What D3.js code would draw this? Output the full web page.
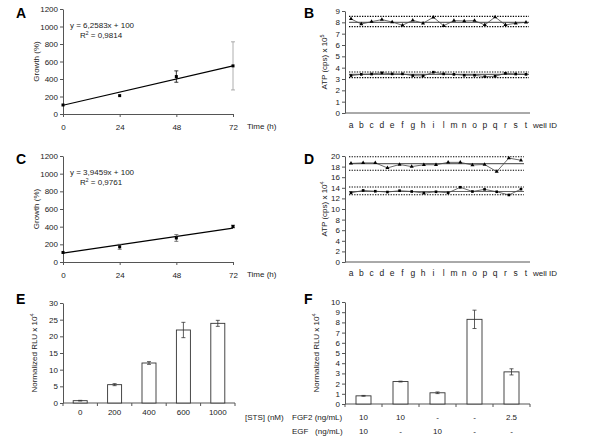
<!DOCTYPE html>
<html><head><meta charset="utf-8">
<script src="https://cdn.jsdelivr.net/npm/d3@7"></script>
<style>
body{margin:0;background:#fff;}
svg{display:block;font-family:"Liberation Sans",Arial,sans-serif;}
</style></head><body>
<svg id="c" width="600" height="446"></svg>
<script>
// ---------- DATA ----------
const timeH = [0, 24, 48, 72];
const timeTicks = [0, 24, 48, 72];
const growthTicks = [0, 200, 400, 600, 800, 1000, 1200];
const growthA = [103, 210, 428, 550];
const growthAErr = [0, 0, 65, 275];
const growthC = [108, 172, 272, 402];
const growthCErr = [0, 28, 38, 15];
const slopeA = 6.2583, slopeC = 3.9459, interceptFit = 100;
const eqA = ["y = 6,2583x + 100", "0,9814"];
const eqC = ["y = 3,9459x + 100", "0,9761"];

const wellIDs = ["a","b","c","d","e","f","g","h","i","l","m","n","o","p","q","r","s","t"];
const atpBHigh = [8.3,7.85,8.06,8.24,8.03,7.74,8.18,7.92,8.45,7.7,8.15,8.12,8.15,7.77,8.47,7.77,7.92,8.0];
const atpBLow  = [3.3,3.41,3.44,3.54,3.45,3.45,3.3,3.27,3.6,3.45,3.41,3.33,3.33,3.21,3.24,3.5,3.44,3.41];
const limBHigh = [7.62, 8.0, 8.53];   // lower limit, mean, upper limit
const limBLow  = [3.12, 3.4, 3.62];
const atpBTicks = [0,1,2,3,4,5,6,7,8,9];

const atpDHigh = [18.6,18.7,18.7,17.75,18.4,18.0,18.35,18.35,18.8,18.8,18.3,18.4,17.05,19.6,19.2];
const atpDLow  = [13.05,13.5,13.35,13.2,13.45,13.3,13.0,13.25,13.05,14.1,13.3,13.7,13.25,12.65,13.75];
const limDHigh = [17.3, 18.55, 19.85];
const limDLow  = [12.7, 13.3, 14.15];
const atpDTicks = [0,2,4,6,8,10,12,14,16,18,20];

const stsDoses = ["0","200","400","600","1000"];
const rluE = [0.7, 5.5, 12.0, 21.9, 23.9];
const rluEErr = [0.1, 0.3, 0.4, 2.3, 0.9];
const rluETicks = [0,5,10,15,20,25,30];

const fgf2 = ["10","10","-","-","2.5"];
const egf  = ["10","-","10","-","-"];
const rluF = [0.8, 2.2, 1.1, 8.3, 3.15];
const rluFErr = [0.04, 0.04, 0.08, 0.9, 0.3];
const rluFTicks = [0,1,2,3,4,5,6,7,8,9,10];

// ---------- DRAWING ----------
const svg = d3.select("#c");
const TXT = "#222", AX = "#555", FS = 8;

function panelLetter(t, x, y){
  svg.append("text").attr("x",x).attr("y",y).attr("font-size",14).attr("font-weight","bold")
    .attr("fill","#000").text(t);
}
function leftAxis(scale, x, ticks){
  const g = svg.append("g").attr("transform",`translate(${x},0)`)
    .call(d3.axisLeft(scale).tickValues(ticks).tickFormat(d3.format("d")).tickSize(3).tickPadding(2).tickSizeOuter(0));
  g.selectAll("path,line").attr("stroke",AX);
  g.selectAll("text").attr("font-size",FS).attr("fill",TXT).attr("font-family","Liberation Sans, Arial, sans-serif");
  return g;
}
function yTitle(x, yc, main, sup){
  const t = svg.append("text").attr("transform",`translate(${x},${yc}) rotate(-90)`)
    .attr("text-anchor","middle").attr("font-size",FS).attr("fill",TXT).text(main);
  if(sup){ t.append("tspan").attr("font-size",5.5).attr("dy",-3).text(sup); }
}
function hLine(x1,x2,y,stroke,w,dash){
  svg.append("line").attr("x1",x1).attr("x2",x2).attr("y1",y).attr("y2",y)
    .attr("stroke",stroke).attr("stroke-width",w).attr("stroke-dasharray",dash||null);
}
function errBar(x,y1,y2,color,cap){
  svg.append("line").attr("x1",x).attr("x2",x).attr("y1",y1).attr("y2",y2).attr("stroke",color).attr("stroke-width",0.8);
  [y1,y2].forEach(y=>svg.append("line").attr("x1",x-cap).attr("x2",x+cap).attr("y1",y).attr("y2",y).attr("stroke",color).attr("stroke-width",0.8));
}

// ----- growth panels (A, C)
function growthPanel(top, bottom, vals, errs, slope, eq, errColors){
  const x = d3.scaleLinear().domain([0,72]).range([63,233]);
  const y = d3.scaleLinear().domain([0,1200]).range([bottom,top]);
  leftAxis(y, 63, growthTicks);
  const gx = svg.append("g").attr("transform",`translate(0,${bottom})`)
    .call(d3.axisBottom(x).tickValues(timeTicks).tickSize(3).tickPadding(7).tickSizeOuter(0));
  gx.selectAll("path,line").attr("stroke",AX);
  gx.selectAll("text").attr("font-size",FS).attr("fill",TXT);
  svg.append("text").attr("x",247).attr("y",bottom+15).attr("font-size",FS).attr("fill",TXT).text("Time (h)");
  yTitle(39,(top+bottom)/2,"Growth (%)");
  svg.append("line").attr("x1",x(0)).attr("x2",x(72)).attr("y1",y(interceptFit)).attr("y2",y(interceptFit+slope*72))
    .attr("stroke","#000").attr("stroke-width",1.2);
  timeH.forEach((t,i)=>{
    if(errs[i]>0) errBar(x(t), y(vals[i]+errs[i]), y(vals[i]-errs[i]), errColors[i], 2);
    svg.append("rect").attr("x",x(t)-1.5).attr("y",y(vals[i])-1.5).attr("width",3).attr("height",3).attr("fill","#000");
  });
  svg.append("text").attr("x",70).attr("y",top+19).attr("font-size",FS).attr("fill",TXT).text(eq[0]);
  const r = svg.append("text").attr("x",80).attr("y",top+29).attr("font-size",FS).attr("fill",TXT).text("R");
  r.append("tspan").attr("font-size",5).attr("dy",-3).text("2");
  r.append("tspan").attr("dy",3).text(" = "+eq[1]);
}
panelLetter("A",16,18);
growthPanel(9, 114, growthA, growthAErr, slopeA, eqA, ["#000","#000","#000","#999"]);
panelLetter("C",16,164);
growthPanel(156, 262, growthC, growthCErr, slopeC, eqC, ["#000","#555","#555","#555"]);

// ----- ATP panels (B, D)
function atpPanel(top, bottom, maxV, ticks, high, low, limH, limL, sup, labelY){
  const y = d3.scaleLinear().domain([0,maxV]).range([bottom,top]);
  const xl = d3.scalePoint().domain(wellIDs).range([351,526]);
  leftAxis(y, 345, ticks);
  hLine(345,530,bottom,AX,1);
  wellIDs.forEach(w=>svg.append("text").attr("x",xl(w)).attr("y",labelY).attr("text-anchor","middle")
    .attr("font-size",FS+0.5).attr("fill",TXT).text(w));
  svg.append("text").attr("x",533).attr("y",labelY).attr("font-size",FS).attr("fill",TXT).text("well ID");
  yTitle(327,(top+bottom)/2,"ATP (cps) x 10",sup);
  [[high,limH,"tri"],[low,limL,"dia"]].forEach(([vals,lim,shape])=>{
    const xs = d3.scalePoint().domain(d3.range(vals.length)).range([351, vals.length===wellIDs.length?526:521]);
    const x1 = xs(0)-2, x2 = xs(vals.length-1)+3;
    hLine(x1,x2,y(lim[0]),"#000",1.1,"1.3,1.3");
    hLine(x1,x2,y(lim[2]),"#000",1.1,"1.3,1.3");
    hLine(x1,x2,y(lim[1]),"#666",1.2);
    svg.append("path").datum(vals).attr("fill","none").attr("stroke","#444").attr("stroke-width",0.8)
      .attr("d",d3.line().x((d,i)=>xs(i)).y(d=>y(d)));
    const sym = d3.symbol().type(shape==="tri"?d3.symbolTriangle:d3.symbolSquare).size(7);
    vals.forEach((v,i)=>svg.append("path").attr("d",sym()).attr("fill","#000")
      .attr("transform",`translate(${xs(i)},${y(v)})`));
  });
}
panelLetter("B",304,18);
atpPanel(11, 113, 9, atpBTicks, atpBHigh, atpBLow, limBHigh, limBLow, "5", 128);
panelLetter("D",304,164);
atpPanel(156, 262, 20, atpDTicks, atpDHigh, atpDLow, limDHigh, limDLow, "4", 276);

// ----- bar panels (E, F)
function barPanel(cats, vals, errs, ticks, maxV, top, bottom, x0, x1, barW, sup){
  const y = d3.scaleLinear().domain([0,maxV]).range([bottom,top]);
  const xb = d3.scaleBand().domain(d3.range(cats.length)).range([x0,x1]);
  leftAxis(y, x0, ticks);
  hLine(x0,x1,bottom,AX,1);
  d3.range(cats.length+1).forEach(i=>{
    const xx = x0 + i*xb.step();
    svg.append("line").attr("x1",xx).attr("x2",xx).attr("y1",bottom).attr("y2",bottom+3).attr("stroke",AX);
  });
  vals.forEach((v,i)=>{
    const cx = xb(i)+xb.bandwidth()/2;
    svg.append("rect").attr("x",cx-barW/2).attr("y",y(v)).attr("width",barW).attr("height",bottom-y(v))
      .attr("fill","#fff").attr("stroke","#333").attr("stroke-width",0.9);
    errBar(cx, y(v+errs[i]), y(v-errs[i]), "#333", 2);
  });
  yTitle(x0-26,(top+bottom)/2,"Normalized RLU x 10",sup);
  return xb;
}
panelLetter("E",16,304);
const xbE = barPanel(stsDoses, rluE, rluEErr, rluETicks, 30, 303, 403, 63, 235, 14, "4");
stsDoses.forEach((d,i)=>svg.append("text").attr("x",xbE(i)+xbE.bandwidth()/2).attr("y",415)
  .attr("text-anchor","middle").attr("font-size",FS).attr("fill",TXT).text(d));
svg.append("text").attr("x",245).attr("y",420).attr("font-size",FS).attr("fill",TXT).text("[STS] (nM)");

panelLetter("F",304,304);
const xbF = barPanel(fgf2, rluF, rluFErr, rluFTicks, 10, 302, 404, 345, 530, 15, "4");
[[fgf2,"FGF2 (ng/mL)",420],[egf,"EGF   (ng/mL)",434]].forEach(([arr,lab,yy])=>{
  svg.append("text").attr("x",292).attr("y",yy).attr("font-size",FS).attr("fill",TXT)
    .attr("xml:space","preserve").style("white-space","pre").text(lab);
  arr.forEach((d,i)=>svg.append("text").attr("x",xbF(i)+xbF.bandwidth()/2).attr("y",yy)
    .attr("text-anchor","middle").attr("font-size",FS).attr("fill",TXT).text(d));
});
</script>
</body></html>
